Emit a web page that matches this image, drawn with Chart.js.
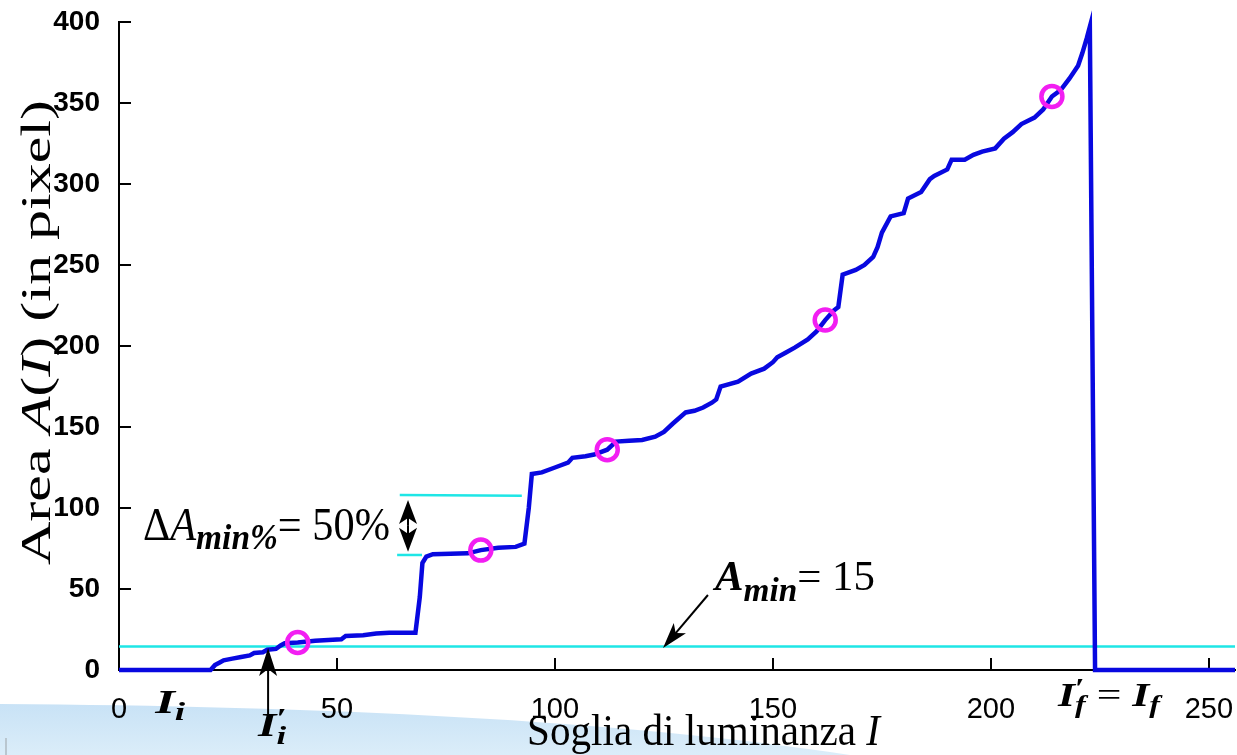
<!DOCTYPE html>
<html lang="it">
<head>
  <meta charset="UTF-8">
  <title>Area A(I) in funzione della soglia di luminanza</title>
  <script src="https://cdn.jsdelivr.net/npm/chart.js@4"></script>
  <style>
    html, body { margin: 0; padding: 0; background: #fff; overflow: hidden; }
    canvas { display: block; }
  </style>
</head>
<body>
  <canvas id="areaChart" width="1237" height="755"></canvas>

  <script>
    // curva A(I): soglia di luminanza -> area in pixel
    const soglie = [0, 21, 22, 23, 24, 26, 28, 30, 31, 33, 34, 36, 37, 38, 41, 45, 48, 51, 52, 56, 59, 62, 68,
      69, 69.6, 70.5, 72, 80, 83, 87, 91, 93, 94, 94.7, 97, 100, 103, 104, 107, 109, 112, 114, 117, 120,
      123, 125, 127, 130, 132, 134, 136, 137, 138, 142, 145, 148, 150, 151, 153, 155, 158, 160, 162, 164,
      165, 166, 169, 171, 173, 174, 175, 177, 180, 181, 184, 186, 187, 190, 191, 194, 196, 198, 201, 203,
      205, 207, 210, 212, 214, 216, 218, 220, 221, 222, 222.7, 223.9, 256];
    const aree = [0, 0, 3, 4.5, 6, 7, 8, 9, 10.5, 11, 12.5, 13, 15, 16.5, 17, 18, 18.5, 19, 21, 21.5, 22.5, 23, 23,
      45, 66, 70, 71.5, 72, 74, 75.5, 76, 78, 100, 121, 122, 125, 128, 131, 132, 133, 136, 141, 141.5, 142,
      144, 147, 152, 159, 160, 162, 165, 167, 175, 178, 183, 186, 190, 193, 196, 199, 204, 209, 216, 222,
      224, 244, 247, 250, 255, 261, 270, 280, 282, 291, 295, 303, 305, 309, 315, 315, 318, 320, 322, 328,
      332, 337, 341, 346, 354, 358, 365, 373, 381, 390, 397, 0, 0];

    // punti evidenziati (cerchi magenta)
    const soglieCerchi = [41, 83, 112, 162, 214];
    const areeCerchi = [17, 74, 136, 216, 354];

    // linee ciano: soglia A_min e livelli del salto DeltaA
    const xAmin = [0, 256];
    const yAmin = [14.5, 14.5];
    const xSalto1 = [64.4, 92.4];
    const ySalto1 = [108, 107.6];
    const xSalto2 = [63.8, 69.5];
    const ySalto2 = [71, 71];

    // etichette degli assi
    const tickX = [0, 50, 100, 150, 200, 250];
    const tickY = [0, 50, 100, 150, 200, 250, 300, 350, 400];

    const zip = (xs, ys) => xs.map((x, i) => ({ x: x, y: ys[i] }));

    const serif = '"Liberation Serif", "Times New Roman", serif';
    const sans = '"Liberation Sans", Arial, sans-serif';

    // scrive una formula fatta di pezzi con font diversi
    function scriviFormula(ctx, x, y, parti, larghezza, sy, ruota) {
      let w = 0;
      parti.forEach(p => { ctx.font = p.font; if (!p.resta) w += ctx.measureText(p.t).width; });
      const sx = larghezza ? larghezza / w : 1;
      ctx.save();
      ctx.translate(x, y);
      if (ruota) ctx.rotate(-Math.PI / 2);
      ctx.scale(sx, sy || 1);
      ctx.textAlign = 'left';
      ctx.textBaseline = 'alphabetic';
      ctx.fillStyle = '#000';
      let cx = 0;
      parti.forEach(p => {
        ctx.font = p.font;
        ctx.fillText(p.t, cx + (p.dx || 0), p.dy || 0);
        if (!p.resta) cx += ctx.measureText(p.t).width;
      });
      ctx.restore();
    }

    function freccia(ctx, x0, y0, x1, y1, lungh, largh) {
      const ang = Math.atan2(y1 - y0, x1 - x0);
      ctx.beginPath();
      ctx.moveTo(x0, y0);
      ctx.lineTo(x1 - Math.cos(ang) * lungh * 0.6, y1 - Math.sin(ang) * lungh * 0.6);
      ctx.stroke();
      ctx.save();
      ctx.translate(x1, y1);
      ctx.rotate(ang);
      ctx.beginPath();
      ctx.moveTo(0, 0);
      ctx.lineTo(-lungh, -largh / 2);
      ctx.lineTo(-lungh * 0.75, 0);
      ctx.lineTo(-lungh, largh / 2);
      ctx.closePath();
      ctx.fill();
      ctx.restore();
    }

    // sfondo della diapositiva (fascia azzurra in basso)
    const sfondo = {
      id: 'sfondo',
      beforeDraw(chart) {
        const ctx = chart.ctx;
        ctx.save();
        ctx.fillStyle = '#fff';
        ctx.fillRect(0, 0, chart.width, chart.height);
        const g = ctx.createLinearGradient(0, 703, 0, 755);
        g.addColorStop(0, '#c8e2f6');
        g.addColorStop(1, '#dbedf9');
        ctx.fillStyle = g;
        ctx.beginPath();
        ctx.moveTo(0, 704);
        ctx.bezierCurveTo(320, 706, 620, 720, 850, 755);
        ctx.lineTo(0, 755);
        ctx.closePath();
        ctx.fill();
        ctx.strokeStyle = '#b9c6cf';
        ctx.lineWidth = 2;
        ctx.beginPath();
        ctx.moveTo(6, 738);
        ctx.lineTo(6, 755);
        ctx.stroke();
        ctx.restore();
      }
    };

    // tacche rivolte verso l'interno
    const tacche = {
      id: 'tacche',
      beforeDatasetsDraw(chart) {
        const { ctx, chartArea: a, scales: { x, y } } = chart;
        ctx.save();
        ctx.strokeStyle = '#000';
        ctx.lineWidth = 2;
        ctx.beginPath();
        x.ticks.forEach(t => {
          const px = Math.round(x.getPixelForValue(t.value));
          ctx.moveTo(px, a.bottom);
          ctx.lineTo(px, a.bottom - 12);
        });
        y.ticks.forEach(t => {
          const py = Math.round(y.getPixelForValue(t.value));
          ctx.moveTo(a.left, py);
          ctx.lineTo(a.left + 12, py);
        });
        ctx.stroke();
        ctx.restore();
      }
    };

    // frecce, formule e titoli degli assi
    const annotazioni = {
      id: 'annotazioni',
      afterDatasetsDraw(chart) {
        const { ctx, scales: { x, y } } = chart;
        const px = v => x.getPixelForValue(v);
        const py = v => y.getPixelForValue(v);
        ctx.save();
        ctx.strokeStyle = '#000';
        ctx.fillStyle = '#000';
        ctx.lineWidth = 2;

        // doppia freccia del salto DeltaA
        const xd = px(66.3);
        freccia(ctx, xd, py(89), xd, py(105), 24, 18);
        freccia(ctx, xd, py(89), xd, py(73), 24, 18);

        // freccia verso A_min
        freccia(ctx, px(135.1), py(46.3), px(124.8), py(13.6), 26, 16);

        // freccia verso I'_i
        freccia(ctx, px(34.2), py(-28), px(34.2), py(13.6), 28, 18);

        scriviFormula(ctx, px(5.5), py(80.2), [
          { t: 'Δ', font: `38px ${serif}` },
          { t: 'A', font: `italic 38px ${serif}` },
          { t: 'min%', font: `italic bold 30px ${serif}`, dy: 7 },
          { t: '= 50%', font: `38px ${serif}` }
        ], 247, 1.22);

        scriviFormula(ctx, px(136.7), py(49.4), [
          { t: 'A', font: `italic bold 36px ${serif}` },
          { t: 'min', font: `italic bold 28px ${serif}`, dy: 9 },
          { t: '= 15', font: `36px ${serif}` }
        ], 160, 1.18);

        scriviFormula(ctx, px(8.3), py(-26.5), [
          { t: 'I', font: `italic bold 30px ${serif}` },
          { t: 'i', font: `italic bold 22px ${serif}`, dy: 6 }
        ], 30, 1.1);

        scriviFormula(ctx, px(31.9), py(-40.7), [
          { t: 'I', font: `italic bold 30px ${serif}` },
          { t: '′', font: `bold 24px ${serif}`, dy: -8, resta: true },
          { t: 'i', font: `italic bold 22px ${serif}`, dy: 7 }
        ], 28, 1.1);

        scriviFormula(ctx, px(215.4), py(-22), [
          { t: 'I', font: `italic bold 30px ${serif}` },
          { t: '′', font: `bold 24px ${serif}`, dy: -8, resta: true },
          { t: 'f', font: `italic bold 22px ${serif}`, dy: 7 },
          { t: ' = ', font: `30px ${serif}` },
          { t: 'I', font: `italic bold 30px ${serif}` },
          { t: 'f', font: `italic bold 22px ${serif}`, dy: 7 }
        ], 102, 1.1);

        // titolo asse x
        scriviFormula(ctx, px(93.6), 745, [
          { t: 'Soglia di luminanza ', font: `38px ${serif}` },
          { t: 'I', font: `italic 38px ${serif}` }
        ], 353, 1.14);

        // titolo asse y (ruotato)
        scriviFormula(ctx, 50, 565, [
          { t: 'Area ', font: `42px ${serif}` },
          { t: 'A', font: `italic 42px ${serif}` },
          { t: '(', font: `42px ${serif}` },
          { t: 'I', font: `italic 42px ${serif}` },
          { t: ') (in pixel)', font: `42px ${serif}` }
        ], 465, 1, true);

        ctx.restore();
      }
    };

    // niente margini extra per le etichette: l'area del grafico resta fissa
    const senzaPadding = s => {
      s.paddingLeft = 0; s.paddingRight = 0; s.paddingTop = 0; s.paddingBottom = 0;
    };

    new Chart(document.getElementById('areaChart'), {
      type: 'scatter',
      data: {
        datasets: [
          {
            data: zip(soglieCerchi, areeCerchi),
            pointStyle: 'circle',
            pointRadius: 10.5,
            pointBorderWidth: 4.5,
            pointBorderColor: '#f21ef2',
            pointBackgroundColor: 'rgba(0,0,0,0)',
            showLine: false,
            order: 0
          },
          {
            data: zip(soglie, aree),
            showLine: true,
            borderColor: '#0808e0',
            borderWidth: 4.5,
            pointRadius: 0,
            tension: 0,
            clip: false,
            order: 1
          },
          {
            data: zip(xAmin, yAmin),
            showLine: true,
            borderColor: '#1ee6e6',
            borderWidth: 2.5,
            pointRadius: 0,
            clip: false,
            order: 2
          },
          {
            data: zip(xSalto1, ySalto1),
            showLine: true,
            borderColor: '#1ee6e6',
            borderWidth: 2.5,
            pointRadius: 0,
            order: 2
          },
          {
            data: zip(xSalto2, ySalto2),
            showLine: true,
            borderColor: '#1ee6e6',
            borderWidth: 2.5,
            pointRadius: 0,
            order: 2
          }
        ]
      },
      options: {
        responsive: false,
        animation: false,
        devicePixelRatio: 1,
        layout: { autoPadding: false, padding: { top: 22, right: 2, left: 0, bottom: 0 } },
        plugins: {
          legend: { display: false },
          tooltip: { enabled: false }
        },
        scales: {
          x: {
            type: 'linear',
            min: 0,
            max: 256,
            afterBuildTicks: s => { s.ticks = tickX.map(v => ({ value: v })); },
            afterFit: s => { s.height = 85; senzaPadding(s); },
            grid: { display: false },
            border: { display: true, color: '#000', width: 2 },
            ticks: {
              padding: 15,
              maxRotation: 0,
              color: '#000',
              font: { family: sans, size: 29 }
            }
          },
          y: {
            type: 'linear',
            min: 0,
            max: 400,
            afterBuildTicks: s => { s.ticks = tickY.map(v => ({ value: v })); },
            afterFit: s => { s.width = 119; senzaPadding(s); },
            grid: { display: false },
            border: { display: true, color: '#000', width: 2 },
            ticks: {
              padding: 11,
              color: '#000',
              font: { family: sans, size: 28, weight: 'bold' }
            }
          }
        }
      },
      plugins: [sfondo, tacche, annotazioni]
    });
  </script>
</body>
</html>
